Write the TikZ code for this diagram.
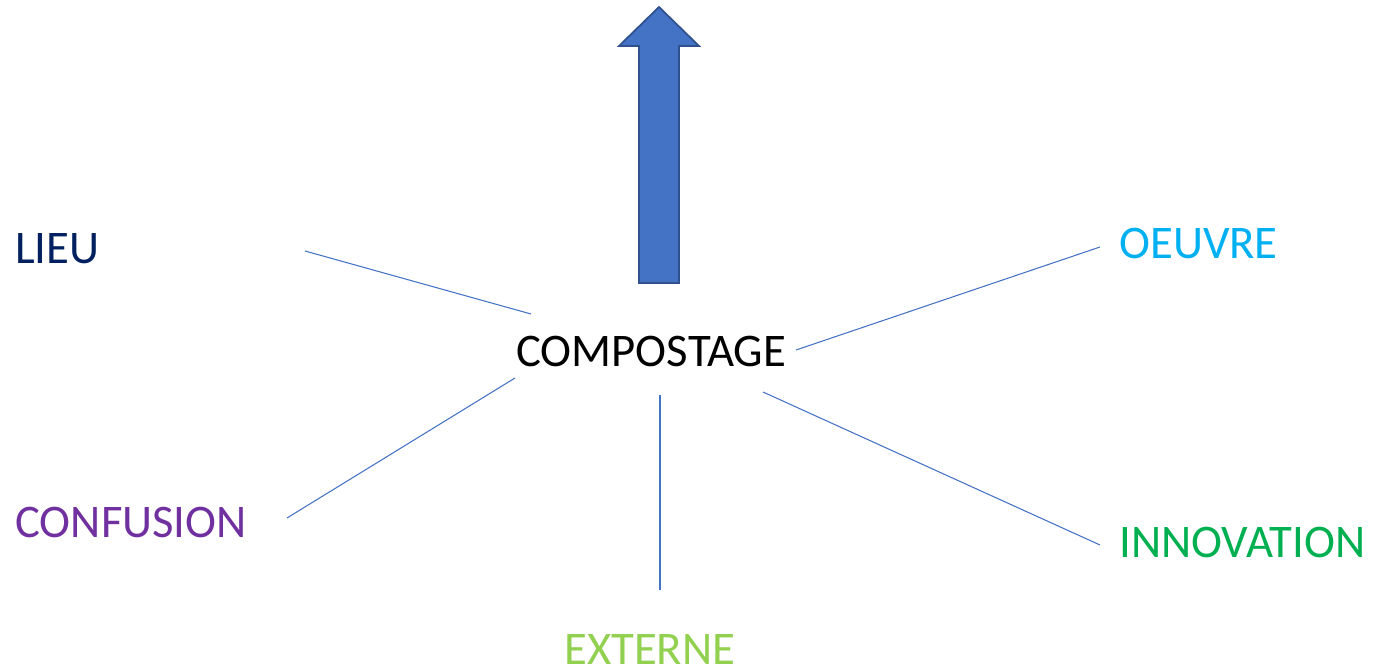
\documentclass[tikz,border=0pt]{standalone}
\usepackage{fontspec}
\setmainfont{Carlito}
\definecolor{lieucol}{HTML}{002060}
\definecolor{oeuvrecol}{HTML}{00B0F0}
\definecolor{confcol}{HTML}{7030A0}
\definecolor{innovcol}{HTML}{00B050}
\definecolor{externcol}{HTML}{92D050}
\definecolor{arrowfill}{HTML}{4472C4}
\definecolor{arrowline}{HTML}{2F528F}
\tikzset{
  word/.style={anchor=base west, inner sep=0pt, font=\fontsize{26.6}{30}\selectfont},
  spoke/.style={draw=arrowfill, line width=0.6pt},
}
\begin{document}
\begin{tikzpicture}[x=0.02cm, y=-0.02cm]
  \useasboundingbox (0,0) rectangle (1373,672);
  % mots
  \node[word] (comp) at (516,366) {COMPOSTAGE};
  \node[word, text=lieucol] (lieu) at (15,264) {LIEU};
  \node[word, text=oeuvrecol] (oeuvre) at (1119,259) {OEUVRE};
  \node[word, text=confcol] (conf) at (15,537) {CONFUSION};
  \node[word, text=innovcol] (innov) at (1119,557) {INNOVATION};
  \node[word, text=externcol] (extern) at (564,664) {EXTERNE};
  % extremites des traits
  \coordinate (l1) at (305,251);  \coordinate (l2) at (531,314);
  \coordinate (o1) at (1100,247); \coordinate (o2) at (796,350);
  \coordinate (c1) at (287,518);  \coordinate (c2) at (515,378);
  \coordinate (e1) at (660,590);  \coordinate (e2) at (660,395);
  \coordinate (i1) at (1100,545); \coordinate (i2) at (763,392);
  \draw[spoke] (l1) -- (l2);
  \draw[spoke] (o1) -- (o2);
  \draw[spoke] (c1) -- (c2);
  \draw[spoke] (e1) -- (e2);
  \draw[spoke] (i1) -- (i2);
  % fleche
  \draw[fill=arrowfill, draw=arrowline, line width=1pt, line join=miter]
    (639,283) -- (639,46) -- (619,46) -- (659,7) -- (699,46) -- (679,46) -- (679,283) -- cycle;
\end{tikzpicture}
\end{document}
